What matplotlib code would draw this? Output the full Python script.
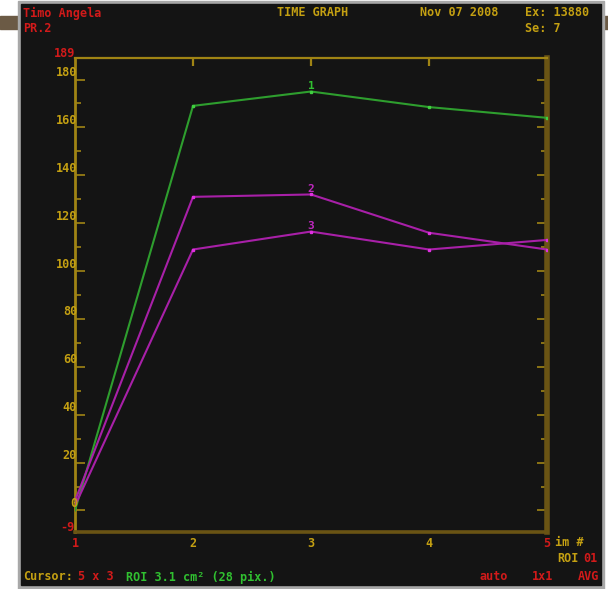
import matplotlib
matplotlib.use('Agg')
import matplotlib.pyplot as plt
from matplotlib.patches import Rectangle

#================== data ==================#
images = [1, 2, 3, 4, 5]
curve1 = [0, 169, 175, 168.5, 164]      # green
curve2 = [4, 131, 132, 116, 109]        # magenta, upper
curve3 = [2, 109, 116.5, 109, 113]      # magenta, lower
y_ticks = [0, 20, 40, 60, 80, 100, 120, 140, 160, 180]
y_minor = [10, 30, 50, 70, 90, 110, 130, 150, 170]
y_min, y_max = -9, 189

W, H = 608, 589
BG = '#141414'
GOLD = '#c4a012'
AXG = '#a08414'
OLIVE = '#6a5414'
RED = '#d21a1a'
GRN = '#2e9e2e'
MAG = '#a820a8'
TXTG = '#30c030'
FONT = 'DejaVu Sans Mono'

fig = plt.figure(figsize=(W / 100, H / 100), dpi=100, facecolor='white')

def px_rect(x0, y0, x1, y1, color):
    fig.patches.append(Rectangle((x0 / W, 1 - y1 / H), (x1 - x0) / W, (y1 - y0) / H,
                                 transform=fig.transFigure, color=color, zorder=-5))

px_rect(0, 16, 20, 29, '#6b5a45')
px_rect(600, 16, 608, 29, '#6b5a45')
px_rect(18, 1, 604, 589, '#a8a8a8')
px_rect(21, 4, 601, 585, BG)

def txt(x, y, s, color, ha='left', size=8.5):
    fig.text(x / W, 1 - y / H, s, color=color, ha=ha, va='center',
             family=FONT, weight='bold', fontsize=size)

# header
txt(23, 13, 'Timo Angela', RED)
txt(23, 28, 'PR.2', RED)
txt(277, 13, 'TIME GRAPH', GOLD)
txt(420, 13, 'Nov 07 2008', GOLD)
txt(525, 13, 'Ex: 13880', GOLD)
txt(525, 28, 'Se: 7', GOLD)

# footer
txt(23, 577, 'Cursor:', GOLD)
txt(78, 577, '5 x 3', RED)
txt(126, 577, 'ROI 3.1 cm\u00b2 (28 pix.)', TXTG)
txt(480, 577, 'auto', RED)
txt(532, 577, '1x1', RED)
txt(578, 577, 'AVG', RED)
txt(555, 543, 'im #', GOLD)
txt(557, 559, 'ROI', GOLD)
txt(583, 559, '01', RED)

#================== plot ==================#
L, R, T, B = 75, 547, 58, 532
ax = fig.add_axes([L / W, 1 - B / H, (R - L) / W, (B - T) / H])
ax.set_facecolor(BG)
ax.set_xlim(1, 5)
ax.set_ylim(y_min, y_max)

ax.plot(images, curve1, color=GRN, lw=1.5, zorder=3)
ax.plot(images, curve2, color=MAG, lw=1.5, zorder=3)
ax.plot(images, curve3, color=MAG, lw=1.5, zorder=3)
ax.plot(images[1:], curve1[1:], 's', color='#40d040', ms=1.5, zorder=4)
ax.plot(images[1:], curve2[1:], 's', color='#e030e0', ms=1.5, zorder=4)
ax.plot(images[1:], curve3[1:], 's', color='#e030e0', ms=1.5, zorder=4)

# curve numbers
for lab, c, col in [('1', curve1, '#30c030'), ('2', curve2, '#c028c0'), ('3', curve3, '#c028c0')]:
    ax.annotate(lab, xy=(3, c[2]), xytext=(0, 0.5), textcoords='offset points',
                ha='center', va='bottom', color=col, family=FONT,
                weight='bold', fontsize=8, zorder=5)

for s in ['left', 'top']:
    ax.spines[s].set_color(AXG)
ax.spines['left'].set_linewidth(2.0)
ax.spines['top'].set_linewidth(1.6)
ax.spines['bottom'].set_color(OLIVE)
ax.spines['bottom'].set_linewidth(2.6)
ax.spines['right'].set_color(OLIVE)
ax.spines['right'].set_linewidth(4.0)

ax.set_yticks(y_ticks)
ax.set_yticks(y_minor, minor=True)
ax.set_xticks([2, 3, 4])
ax.tick_params(axis='y', which='major', direction='in', length=7, width=1.2,
               color=AXG, left=True, right=True, labelleft=False)
ax.tick_params(axis='y', which='minor', direction='in', length=4, width=1.2,
               color=AXG, left=True, right=True)
ax.tick_params(axis='x', which='major', direction='in', length=6, width=1.6,
               color=AXG, top=True, bottom=False, labelbottom=False)

for v in y_ticks:
    ax.annotate(str(v), xy=(0, v), xycoords=('axes fraction', 'data'),
                xytext=(1.5, 5), textcoords='offset points', ha='right', va='center',
                color=GOLD, family=FONT, weight='bold', fontsize=8.5)
for v in [y_min, y_max]:
    ax.annotate(str(v), xy=(0, v), xycoords=('axes fraction', 'data'),
                xytext=(0, 3), textcoords='offset points', ha='right', va='center',
                color=RED, family=FONT, weight='bold', fontsize=8.5)

for x in images:
    col = RED if x in (1, 5) else GOLD
    ax.annotate(str(x), xy=(x, 0), xycoords=('data', 'axes fraction'),
                xytext=(0, -8), textcoords='offset points', ha='center', va='center',
                color=col, family=FONT, weight='bold', fontsize=8.5)

fig.savefig('out.png', dpi=100, facecolor='white')
